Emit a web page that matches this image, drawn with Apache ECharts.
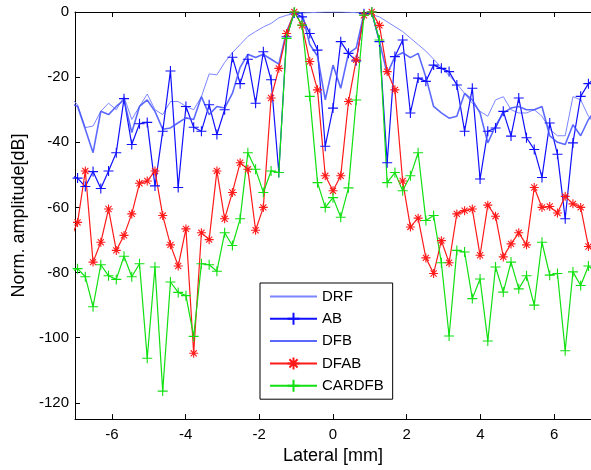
<!DOCTYPE html>
<html>
<head>
<meta charset="utf-8">
<script src="https://cdn.jsdelivr.net/npm/echarts@6/dist/echarts.min.js"></script>
<style>
html,body{margin:0;padding:0;background:#fff;}
#chart{width:591px;height:470px;}
</style>
</head>
<body>
<div id="chart"></div>
<script>
// Lateral positions [mm]
var lateral = [-7.14,-6.93,-6.72,-6.51,-6.30,-6.09,-5.88,-5.67,-5.46,-5.25,-5.04,-4.83,-4.62,-4.41,-4.20,-3.99,-3.78,-3.57,-3.36,-3.15,-2.94,-2.73,-2.52,-2.31,-2.10,-1.89,-1.68,-1.47,-1.26,-1.05,-0.84,-0.63,-0.42,-0.21,0,0.21,0.42,0.63,0.84,1.05,1.26,1.47,1.68,1.89,2.10,2.31,2.52,2.73,2.94,3.15,3.36,3.57,3.78,3.99,4.20,4.41,4.62,4.83,5.04,5.25,5.46,5.67,5.88,6.09,6.30,6.51,6.72,6.93,7.14];

var DRF = [-26,-28.5,-35.5,-35,-30.5,-28,-30,-26,-33,-29,-25.2,-30,-31.5,-27.5,-27.5,-29,-30,-26,-19,-19.3,-15.5,-12.5,-10,-7.5,-6,-4.6,-3.5,-1.8,-1,-0.5,-0.3,-0.2,-0.1,0,0,0,-0.1,-0.2,-0.4,-0.8,-1.5,-3,-4.5,-6,-8,-10,-12,-14.5,-17,-19.5,-22,-25,-28,-30.5,-32,-27,-26,-30,-31,-31,-30,-32,-36,-38,-38,-26,-27,-32,-35];

var AB = [-50,-51,-53.6,-49,-54.2,-48.8,-43.2,-26.6,-40.7,-34.3,-33.9,-53.4,-36.6,-18.1,-53.9,-29,-35.4,-36.6,-28.5,-37.6,-30,-13.9,-22,-14.5,-28,-12.2,-20.8,-49.3,-7.6,-0.3,-1.5,-6.6,-11.7,-41.2,-29.5,-9.1,-12.7,-15,-0.5,0,-9.1,-46.3,-13.7,-8.6,-31,-20.3,-21.3,-16.3,-17.3,-18.3,-22.4,-36.6,-23.4,-51.3,-36.6,-35.6,-30.5,-38.1,-26.4,-38.6,-42.2,-50.8,-34.1,-43.7,-63.5,-40.2,-25.9,-22,-20];

var DFB = [-28,-29,-36,-43.2,-30.5,-31.5,-29,-27,-37,-29,-27,-30.5,-36,-35.6,-34,-32.5,-33,-26,-31.5,-29,-29.5,-25,-17,-13,-14,-13,-14.5,-16,-6,-0.5,-0.3,-10,-13.5,-27,-16.3,-23.4,-12.7,-11,-0.5,0,-9,-19,-13.7,-12.5,-14,-12.7,-20,-29,-31,-32.6,-32,-25,-27,-31,-40.2,-35,-31,-29.5,-29,-30,-30,-29,-38,-40,-40.7,-34.6,-38,-33,-30];

var DFAB = [-70,-64.6,-48.8,-76.8,-70.7,-60.5,-73.2,-68.6,-62,-52.6,-51.9,-48.8,-62.5,-71.5,-78,-66.6,-104.8,-67.8,-69.9,-48.8,-63.5,-55.4,-46.3,-48.3,-67,-60,-26.4,-17.3,-6.6,0,-4.1,-15.2,-23.9,-50.3,-54.9,-50.3,-27.5,-14.7,-1,0,-4.1,-18.3,-23.9,-51.9,-66,-63.3,-75.5,-80.3,-70.2,-77,-62,-61,-60.5,-74.7,-59.3,-62.7,-75.2,-71.2,-67.8,-71.5,-53.9,-60,-59.7,-61.7,-56.6,-58.9,-60,-72,-74];

var CARDFB = [-80,-78.8,-81.3,-90.5,-77.6,-81,-82.1,-75,-81.3,-77.3,-106.3,-78.3,-116.4,-82.9,-86.1,-87.1,-99.6,-77.3,-77.6,-79.6,-67.8,-71.7,-63.5,-43.2,-48.3,-55.4,-48.8,-49.3,-8.1,0,-4,-25.9,-52.4,-60,-57,-63,-54,-27,-1,0,-8.6,-52.4,-49.3,-54.9,-50.3,-43.2,-64,-62.5,-77,-99.5,-73.2,-73.7,-88,-82,-101,-78.3,-86,-76.8,-85,-81,-90,-70.7,-80.8,-80.3,-104,-79.8,-84,-78,-80];

var xTicks = [-6,-4,-2,0,2,4,6];
var yTicks = [0,-20,-40,-60,-80,-100,-120];
var seriesNames = ['DRF','AB','DFB','DFAB','CARDFB'];

function pairs(ys){ return lateral.map(function(x,i){ return [x, ys[i]]; }); }

var PLUS = 'path://M0,5L10,5M5,0L5,10';
var STAR = 'path://M5,0L5,10M0,5L10,5M1.6,1.6L8.4,8.4M1.6,8.4L8.4,1.6';
var NOMARK = 'path://M0,0L1,0L1,1L0,1Z';
var FONT = 'Liberation Sans, Arial, sans-serif';

var chart = echarts.init(document.getElementById('chart'), null, {renderer:'canvas'});
var axisCommon = {
  type:'value', min:-7, max:7,
  axisLine:{show:true, onZero:false, lineStyle:{color:'#000', width:1}},
  splitLine:{show:false}
};
chart.setOption({
  backgroundColor:'#fff',
  animation:false,
  grid:{left:75, top:12, width:524, height:410, containLabel:false},
  legend:{
    data:seriesNames,
    orient:'vertical', left:260, top:283,
    itemWidth:47, itemHeight:15, itemGap:7.3,
    padding:[6,9,6,9], borderColor:'#000', borderWidth:1, backgroundColor:'#fff',
    selectedMode:false,
    textStyle:{fontSize:15, color:'#000', fontFamily:FONT}
  },
  xAxis:[
    Object.assign({}, axisCommon, {
      position:'bottom',
      axisTick:{show:true, inside:true, length:5, customValues:xTicks, lineStyle:{color:'#000'}},
      axisLabel:{show:true, customValues:xTicks, color:'#000', fontSize:15, fontFamily:FONT, margin:8},
      name:'Lateral [mm]', nameLocation:'middle', nameGap:27,
      nameTextStyle:{fontSize:18, color:'#000', fontFamily:FONT}
    }),
    Object.assign({}, axisCommon, {
      position:'top',
      axisTick:{show:true, inside:true, length:5, customValues:xTicks, lineStyle:{color:'#000'}},
      axisLabel:{show:false}
    })
  ],
  yAxis:{
    type:'value', min:-125, max:0,
    axisLine:{show:true, onZero:false, lineStyle:{color:'#000', width:1}},
    axisTick:{show:true, inside:true, length:5, customValues:yTicks, lineStyle:{color:'#000'}},
    axisLabel:{show:true, customValues:yTicks, color:'#000', fontSize:15, fontFamily:FONT, margin:6},
    splitLine:{show:false},
    name:'Norm. amplitude[dB]', nameLocation:'middle', nameGap:44, nameRotate:90,
    nameTextStyle:{fontSize:18, color:'#000', fontFamily:FONT}
  },
  series:[
    {name:'DRF', type:'line', data:pairs(DRF), symbol:NOMARK, symbolSize:1, showSymbol:false, clip:true,
     lineStyle:{color:'#7b86ff', width:1}, itemStyle:{color:'rgba(0,0,0,0)', borderWidth:0}},
    {name:'AB', type:'line', data:pairs(AB), symbol:PLUS, symbolSize:10, showAllSymbol:true, clip:true,
     lineStyle:{color:'#1010ff', width:1.2},
     itemStyle:{color:'#1010ff', borderColor:'#1010ff', borderWidth:1.1}},
    {name:'DFB', type:'line', data:pairs(DFB), symbol:NOMARK, symbolSize:1, showSymbol:false, clip:true,
     lineStyle:{color:'#3f4fff', width:1.6, opacity:0.85}, itemStyle:{color:'rgba(0,0,0,0)', borderWidth:0}},
    {name:'DFAB', type:'line', data:pairs(DFAB), symbol:STAR, symbolSize:9, showAllSymbol:true, clip:true,
     lineStyle:{color:'#ff1a1a', width:1.2},
     itemStyle:{color:'#ff1a1a', borderColor:'#ff1a1a', borderWidth:1.1}},
    {name:'CARDFB', type:'line', data:pairs(CARDFB), symbol:PLUS, symbolSize:10, showAllSymbol:true, clip:true,
     lineStyle:{color:'#10e010', width:1.2},
     itemStyle:{color:'#10e010', borderColor:'#10e010', borderWidth:1.1}}
  ]
});
</script>
</body>
</html>
